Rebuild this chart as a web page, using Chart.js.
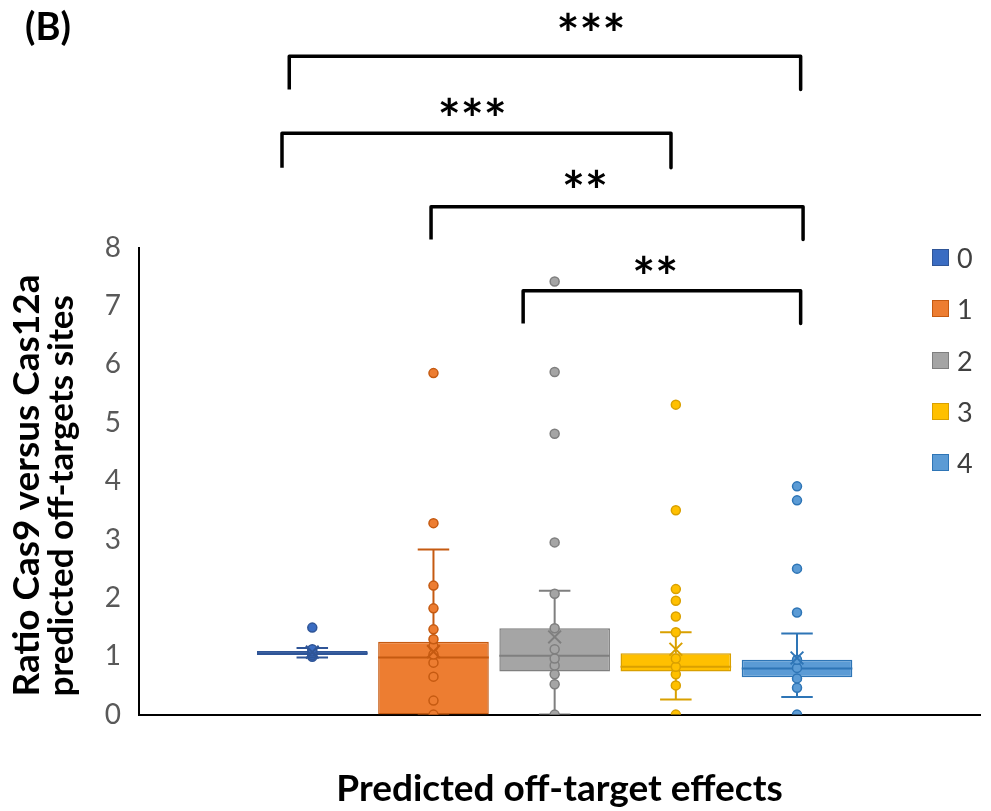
<!DOCTYPE html>
<html>
<head>
<meta charset="utf-8">
<script src="https://cdn.jsdelivr.net/npm/chart.js"></script>
<style>
	body { margin: 0; background: #fff; }
	#wrap { position: relative; width: 991px; height: 811px; }
	#legend { position: absolute; left: 932px; top: 232px; font: 27px Lato, sans-serif; color: #404040; }
	#legend .item { height: 51.3px; display: flex; align-items: center; }
	#legend .sw { width: 15px; height: 15px; margin-right: 8px; border: 1px solid; }
</style>
</head>
<body>
<div id="wrap">
	<canvas id="boxChart" width="991" height="811"></canvas>
	<div id="legend"></div>
</div>

<script>
	// --- data ---
	var groups = ['0', '1', '2', '3', '4'];
	var q1 = [1.02, 0.00, 0.74, 0.74, 0.64];
	var median = [1.05, 0.98, 1.01, 0.82, 0.79];
	var q3 = [1.09, 1.25, 1.48, 1.05, 0.94];
	var whiskerLow = [0.98, 0.00, 0.00, 0.26, 0.30];
	var whiskerHigh = [1.14, 2.83, 2.12, 1.41, 1.39];
	var means = [1.07, 1.08, 1.33, 1.12, 0.97];

	var points0 = [0.99, 1.02, 1.05, 1.08, 1.12, 1.49];
	var points1 = [0, 0.24, 0.65, 0.89, 1.03, 1.17, 1.29, 1.46, 1.82, 2.21, 3.28, 5.85];
	var points2 = [0, 0.52, 0.69, 0.84, 0.96, 1.12, 1.48, 2.07, 2.95, 4.81, 5.87, 7.42];
	var points3 = [0, 0.50, 0.69, 0.82, 0.96, 1.41, 1.68, 1.95, 2.15, 3.50, 5.31];
	var points4 = [0, 0.46, 0.62, 0.80, 0.94, 1.75, 2.50, 3.67, 3.91];
	var allPoints = [points0, points1, points2, points3, points4];

	var yTicks = [0, 1, 2, 3, 4, 5, 6, 7, 8];

	// significance brackets (x in group units, y in axis units)
	var bracketFrom = [-0.19, -0.25, 0.98, 1.74];
	var bracketTo = [4.03, 2.96, 4.05, 4.03];
	var bracketTop = [11.28, 9.96, 8.70, 7.26];
	var bracketLeg = [10.71, 9.37, 8.14, 6.70];
	var stars = ['***', '***', '**', '**'];
	var starX = [2.30, 1.32, 2.25, 2.83];
	var starY = [11.87, 10.42, 9.18, 7.71];

	// --- styles ---
	var fills = ['#3A6CC2', '#ED7D31', '#A5A5A5', '#FFC000', '#5B9BD5'];
	var edges = ['#2F5597', '#C55A11', '#7F7F7F', '#D9A000', '#2E75B6'];
	var boxHalf = 0.4565;
	var capHalf = 0.13;

	Chart.defaults.font.family = 'Lato, sans-serif';

	var datasets = [];

	// boxes (q1..q3) as floating bars
	groups.forEach(function (g, i) {
		datasets.push({
			type: 'bar',
			label: g,
			data: [{ x: i, y: [q1[i], q3[i]] }],
			backgroundColor: fills[i],
			borderColor: edges[i],
			borderWidth: 1.5,
			borderSkipped: false,
			grouped: false,
			categoryPercentage: 1,
			barPercentage: boxHalf * 2,
			order: 5
		});
	});

	// whiskers, caps and median line
	var gap = function (i) { return { x: i, y: null }; };
	groups.forEach(function (g, i) {
		datasets.push({
			type: 'line',
			label: 'whisker ' + g,
			data: [
				{ x: i - capHalf, y: whiskerHigh[i] }, { x: i + capHalf, y: whiskerHigh[i] }, gap(i),
				{ x: i, y: whiskerHigh[i] }, { x: i, y: q3[i] }, gap(i),
				{ x: i, y: q1[i] }, { x: i, y: whiskerLow[i] }, gap(i),
				{ x: i - capHalf, y: whiskerLow[i] }, { x: i + capHalf, y: whiskerLow[i] }, gap(i),
				{ x: i - boxHalf, y: median[i] }, { x: i + boxHalf, y: median[i] }
			],
			borderColor: edges[i],
			borderWidth: 2,
			pointRadius: 0,
			spanGaps: false,
			order: 4
		});
	});

	// individual points
	groups.forEach(function (g, i) {
		datasets.push({
			type: 'scatter',
			label: 'points ' + g,
			data: allPoints[i].map(function (v) { return { x: i, y: v }; }),
			backgroundColor: fills[i],
			borderColor: edges[i],
			borderWidth: 1.5,
			pointRadius: 4.5,
			order: 3
		});
	});

	// means
	datasets.push({
		type: 'scatter',
		label: 'mean',
		data: means.map(function (v, i) { return { x: i, y: v }; }),
		pointStyle: 'crossRot',
		pointRadius: 9,
		borderWidth: 2,
		borderColor: edges,
		order: 2
	});

	// brackets
	var bracketData = [];
	bracketFrom.forEach(function (x1, k) {
		if (k > 0) bracketData.push({ x: x1, y: null });
		bracketData.push({ x: x1, y: bracketLeg[k] });
		bracketData.push({ x: x1, y: bracketTop[k] });
		bracketData.push({ x: bracketTo[k], y: bracketTop[k] });
		bracketData.push({ x: bracketTo[k], y: bracketLeg[k] });
	});
	datasets.push({
		type: 'line',
		label: 'brackets',
		data: bracketData,
		borderColor: '#000',
		borderWidth: 3.5,
		borderJoinStyle: 'round',
		pointRadius: 0,
		spanGaps: false,
		clip: false,
		order: 1
	});

	// stars + rotated y title, left aligned like the original
	var extras = {
		id: 'extras',
		afterDatasetsDraw: function (chart) {
			var ctx = chart.ctx;
			var xs = chart.scales.x, ys = chart.scales.y;
			ctx.save();
			ctx.fillStyle = '#000';
			ctx.font = 'bold 54px Lato, sans-serif';
			ctx.textAlign = 'center';
			ctx.textBaseline = 'alphabetic';
			stars.forEach(function (s, k) {
				var m = ctx.measureText(s);
				var cx = xs.getPixelForValue(starX[k]);
				var cy = ys.getPixelForValue(starY[k]);
				ctx.fillText(s, cx, cy + (m.actualBoundingBoxAscent - m.actualBoundingBoxDescent) / 2);
			});
			ctx.textAlign = 'left';
			var lines = ['Ratio Cas9 versus Cas12a', 'predicted off-targets sites'];
			var sizes = [37, 35];
			var baseX = [39, 73];
			lines.forEach(function (t, k) {
				ctx.save();
				ctx.font = 'bold ' + sizes[k] + 'px Lato, sans-serif';
				ctx.translate(baseX[k], ys.bottom - 18);
				ctx.rotate(-Math.PI / 2);
				ctx.fillText(t, 0, 0);
				ctx.restore();
			});
			ctx.restore();
		}
	};

	var chart = new Chart(document.getElementById('boxChart'), {
		type: 'scatter',
		data: { datasets: datasets },
		options: {
			responsive: false,
			animation: false,
			events: [],
			layout: { padding: { left: 25, right: 8, top: 0, bottom: 0 } },
			plugins: {
				legend: { display: false },
				tooltip: { enabled: false },
				title: {
					display: true,
					text: '(B)',
					align: 'start',
					color: '#000',
					font: { size: 38, weight: 'bold' },
					padding: { top: 5, bottom: 197 }
				}
			},
			scales: {
				x: {
					type: 'linear',
					min: -1.43,
					max: 5.51,
					offset: false,
					grid: { display: false, drawTicks: false },
					border: { display: true, color: '#000', width: 2 },
					// one tick per group, so bar widths follow the group spacing
					afterBuildTicks: function (s) {
						s.ticks = groups.map(function (g, i) { return { value: i }; });
					},
					ticks: { display: false },
					title: {
						display: true,
						text: 'Predicted off-target effects',
						color: '#000',
						font: { size: 37, weight: 'bold' },
						padding: { top: 52, bottom: 0 }
					}
				},
				y: {
					min: 0,
					max: 8,
					grid: { display: false, drawTicks: false },
					border: { display: true, color: '#000', width: 2 },
					afterFit: function (s) { s.width = 114; },
					afterBuildTicks: function (s) {
						s.ticks = yTicks.map(function (v) { return { value: v }; });
					},
					ticks: {
						color: '#595959',
						padding: 18,
						font: { size: 28 }
					}
				}
			}
		},
		plugins: [extras]
	});

	// html legend for the five groups
	var legend = document.getElementById('legend');
	groups.forEach(function (g, i) {
		var row = document.createElement('div');
		row.className = 'item';
		var sw = document.createElement('span');
		sw.className = 'sw';
		sw.style.background = fills[i];
		sw.style.borderColor = edges[i];
		row.appendChild(sw);
		row.appendChild(document.createTextNode(g));
		legend.appendChild(row);
	});
</script>
</body>
</html>
